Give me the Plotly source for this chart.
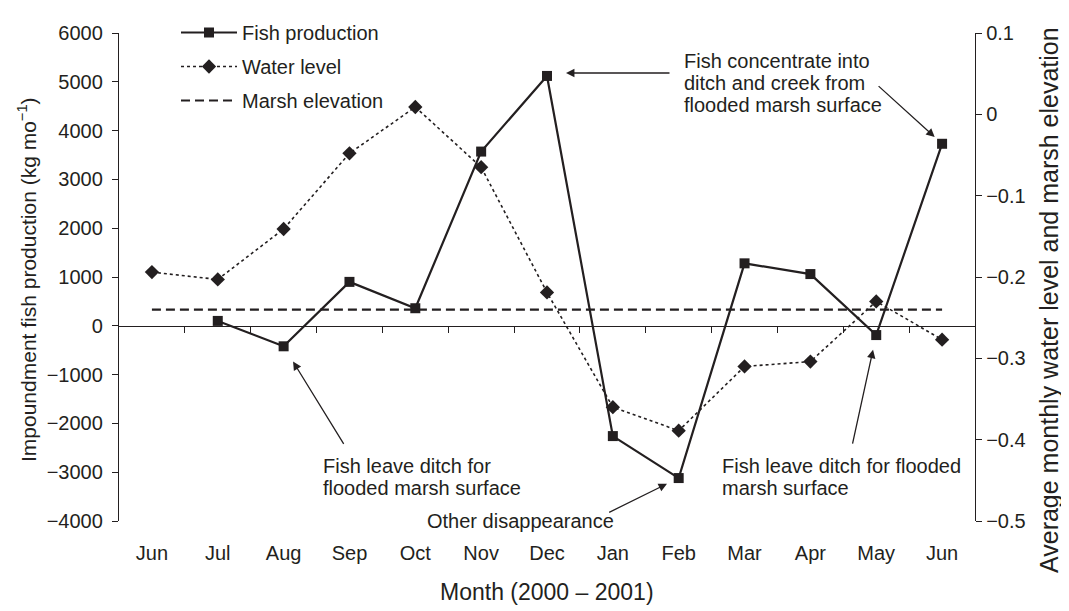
import plotly.graph_objects as go

# ---------------- data ----------------
months = ["Jun", "Jul", "Aug", "Sep", "Oct", "Nov", "Dec",
          "Jan", "Feb", "Mar", "Apr", "May", "Jun"]
fish_production = [None, 100, -420, 900, 360, 3570, 5120,
                   -2260, -3120, 1280, 1060, -190, 3730]
water_level = [-0.194, -0.203, -0.141, -0.048, 0.009, -0.065, -0.219,
               -0.360, -0.389, -0.310, -0.304, -0.230, -0.277]
marsh_elevation = [-0.24] * 13
left_ticks = [-4000, -3000, -2000, -1000, 0, 1000, 2000, 3000, 4000, 5000, 6000]
right_ticks = [-0.5, -0.4, -0.3, -0.2, -0.1, 0, 0.1]

# ---------------- styling ----------------
INK = "#231f20"
FONT = "Liberation Sans, Arial, Helvetica, sans-serif"
OFF = 8  # page body margin offsets the figure by 8px
W, H = 1069 - OFF, 611 - OFF
L, R, T, B = 119 - OFF, 1069 - 975, 33 - OFF, 611 - 521
PW, PH = W - L - R, H - T - B


def px_to_paper(px, py):
    # px, py are window pixel coordinates (as in the reference)
    return (px - OFF - L) / PW, (H - B - (py - OFF)) / PH


def fmt(v):
    s = ("%g" % v)
    return s.replace("-", "\u2212")


xs = list(range(len(months)))

fig = go.Figure()
fig.add_trace(go.Scatter(
    x=xs, y=fish_production, name="Fish production", mode="lines+markers",
    line=dict(color=INK, width=2.2), marker=dict(symbol="square", size=10, color=INK),
    legendgroup="a", connectgaps=False))
fig.add_trace(go.Scatter(
    x=xs, y=water_level, name="Water level", mode="lines+markers", yaxis="y2",
    line=dict(color=INK, width=1.6, dash="dot"),
    marker=dict(symbol="diamond", size=11, color=INK), legendgroup="b"))
fig.add_trace(go.Scatter(
    x=xs, y=marsh_elevation, name="Marsh elevation", mode="lines", yaxis="y2",
    line=dict(color=INK, width=2.2, dash="9px,5px"), legendgroup="c"))
# helper trace so the zero-line axis is drawn
fig.add_trace(go.Scatter(x=[0], y=[0], xaxis="x2", yaxis="y", mode="markers",
                         marker=dict(opacity=0), showlegend=False, hoverinfo="skip"))

lx, ly = px_to_paper(176, 13)
fig.update_layout(
    width=W, height=H,
    margin=dict(l=L, r=R, t=T, b=B, autoexpand=False),
    paper_bgcolor="white", plot_bgcolor="white",
    font=dict(family=FONT, size=20, color=INK),
    showlegend=True,
    legend=dict(x=lx, y=ly, xanchor="left", yanchor="top",
                bgcolor="rgba(0,0,0,0)", font=dict(size=20, color=INK),
                tracegroupgap=5, itemwidth=56),
    xaxis=dict(range=[-0.5, 12.5], tickvals=xs, ticktext=months,
               showline=False, ticks="", showgrid=False, zeroline=False,
               ticklabelstandoff=18, tickfont=dict(size=20, color=INK)),
    xaxis2=dict(overlaying="x", anchor="free", position=0.4, range=[-0.5, 12.5],
                tickvals=[i + 0.5 for i in range(12)], ticks="outside", ticklen=6,
                tickwidth=1.3, tickcolor=INK, showticklabels=False,
                showline=True, linecolor=INK, linewidth=1.3,
                showgrid=False, zeroline=False),
    yaxis=dict(range=[-4000, 6000], tickvals=left_ticks,
               ticktext=[fmt(v) for v in left_ticks], ticks="outside", ticklen=6,
               tickwidth=1.3, tickcolor=INK, showline=True, linecolor=INK,
               linewidth=1.3, showgrid=False, zeroline=False,
               ticklabelstandoff=5, tickfont=dict(size=20, color=INK)),
    yaxis2=dict(overlaying="y", side="right", anchor="x", range=[-0.5, 0.1],
                tickvals=right_ticks, ticktext=[fmt(v) for v in right_ticks],
                ticks="outside", ticklen=6, tickwidth=1.3, tickcolor=INK,
                showline=True, linecolor=INK, linewidth=1.3,
                showgrid=False, zeroline=False, tickfont=dict(size=20, color=INK)),
    yaxis3=dict(overlaying="y", side="right", anchor="x", range=[-0.5, 0.1],
                tickvals=right_ticks, ticks="inside", ticklen=6, tickwidth=1.3,
                tickcolor=INK, showticklabels=False, showline=False,
                showgrid=False, zeroline=False),
)

ann = []

# axis titles
xp, yp = px_to_paper(27, 280)
ann.append(dict(xref="paper", yref="paper", x=xp, y=yp, textangle=-90,
                text="Impoundment fish production (kg mo<sup>\u22121</sup>)",
                showarrow=False, xanchor="center", yanchor="middle",
                font=dict(size=21, color=INK)))
xp, yp = px_to_paper(1049, 300)
ann.append(dict(xref="paper", yref="paper", x=xp, y=yp, textangle=-90,
                text="Average monthly water level and marsh elevation",
                showarrow=False, xanchor="center", yanchor="middle",
                font=dict(size=25, color=INK)))
xp, yp = px_to_paper(547, 592)
ann.append(dict(xref="paper", yref="paper", x=xp, y=yp,
                text="Month (2000 \u2013 2001)", showarrow=False,
                xanchor="center", yanchor="middle", font=dict(size=23, color=INK)))

# annotation texts (one line each for tight line spacing)
text_lines = [
    (682, 61, "Fish concentrate into"),
    (682, 83, "ditch and creek from"),
    (682, 105, "flooded marsh surface"),
    (321, 466, "Fish leave ditch for"),
    (321, 488, "flooded marsh surface"),
    (425, 521, "Other disappearance"),
    (720, 466, "Fish leave ditch for flooded"),
    (720, 488, "marsh surface"),
]
for px, py, t in text_lines:
    xp, yp = px_to_paper(px, py)
    ann.append(dict(xref="paper", yref="paper", x=xp, y=yp, text=t,
                    showarrow=False, xanchor="left", yanchor="middle",
                    font=dict(size=20, color=INK)))

# arrows pointing at data points: (index, value, ax, ay, standoff)
arrows = [
    (6, 5180, 124, 0, 19),
    (12, fish_production[12], -65, -59, 10),
    (2, fish_production[2], 61, 99, 18),
    (11, fish_production[11], -24, 110, 15),
    (8, fish_production[8], -71, 35, 13),
]
for i, v, ax, ay, so in arrows:
    ann.append(dict(x=i, y=v, xref="x", yref="y", ax=ax, ay=ay, text="",
                    showarrow=True, arrowhead=2, arrowsize=1.3, arrowwidth=1.3,
                    arrowcolor=INK, standoff=so))

fig.update_layout(annotations=ann)
fig.write_html("out.html")
